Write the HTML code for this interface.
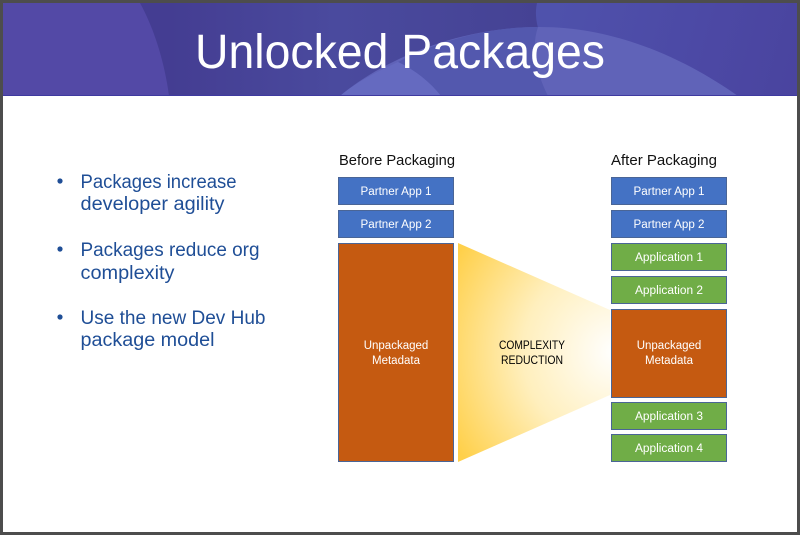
<!DOCTYPE html>
<html>
<head>
<meta charset="utf-8">
<style>
html,body{margin:0;padding:0;width:800px;height:535px;overflow:hidden;background:#fff}
svg{display:block}
text{font-family:"Liberation Sans",sans-serif}
.w{fill:#fff;font-size:11.5px;text-anchor:middle}
.h{fill:#111;font-size:15px}
.b{fill:#1f4e96;font-size:19px}
</style>
</head>
<body>
<svg width="800" height="535" viewBox="0 0 800 535" xmlns="http://www.w3.org/2000/svg">
<defs>
<linearGradient id="mid" gradientUnits="userSpaceOnUse" x1="170" y1="0" x2="540" y2="0">
<stop offset="0" stop-color="#443d92"/><stop offset="0.45" stop-color="#4a4a9e"/><stop offset="1" stop-color="#454294"/>
</linearGradient>
<linearGradient id="rt" gradientUnits="userSpaceOnUse" x1="540" y1="10" x2="797" y2="80">
<stop offset="0" stop-color="#4f52ac"/><stop offset="0.6" stop-color="#4c49a5"/><stop offset="1" stop-color="#4a449f"/>
</linearGradient>
<radialGradient id="fun" gradientUnits="userSpaceOnUse" cx="615" cy="352" r="185">
<stop offset="0" stop-color="#ffffff"/><stop offset="0.5" stop-color="#ffefbd"/><stop offset="1" stop-color="#ffd04a"/>
</radialGradient>
<clipPath id="hc"><rect x="3" y="3" width="794" height="93"/></clipPath>
</defs>
<rect width="800" height="535" fill="#4d4d4d"/>
<rect x="3" y="3" width="794" height="529" fill="#fff"/>
<g clip-path="url(#hc)">
<rect x="3" y="3" width="794" height="93" fill="url(#rt)"/>
<rect x="140" y="3" width="398" height="93" fill="url(#mid)"/>
<path d="M140 3 C155 30 165 65 169 96 H3 V3Z" fill="#5349a6"/>
<path d="M537 3 C535 12 536 20 538 28 H560 V3Z" fill="#4f52ac"/>
<path d="M340 96 C375 66 450 27 540 27 C620 27 690 62 738 96Z" fill="#6063b8"/>
<path d="M538 27 C530 50 538 76 548 96 H441 C430 82 415 70 398 62 C440 40 490 27 538 27Z" fill="#5358ae"/>
<path d="M340 96 C355 83 376 72 398 62 C415 70 430 82 441 96Z" fill="#656ac0"/>
<rect x="3" y="95" width="794" height="1" fill="#3f3aa0"/>
</g>
<text x="195" y="68" font-size="48" fill="#fff" textLength="410" lengthAdjust="spacingAndGlyphs">Unlocked Packages</text>

<circle cx="60" cy="181" r="2.6" fill="#1f4e96"/>
<circle cx="60" cy="249" r="2.6" fill="#1f4e96"/>
<circle cx="60" cy="317" r="2.6" fill="#1f4e96"/>
<text class="b" x="80.500" y="188" textLength="156" lengthAdjust="spacingAndGlyphs">Packages increase</text>
<text class="b" x="80.500" y="210" textLength="144" lengthAdjust="spacingAndGlyphs">developer agility</text>
<text class="b" x="80.500" y="256" textLength="179" lengthAdjust="spacingAndGlyphs">Packages reduce org</text>
<text class="b" x="80.500" y="279" textLength="94" lengthAdjust="spacingAndGlyphs">complexity</text>
<text class="b" x="80.500" y="324" textLength="185" lengthAdjust="spacingAndGlyphs">Use the new Dev Hub</text>
<text class="b" x="80.500" y="346" textLength="134" lengthAdjust="spacingAndGlyphs">package model</text>

<text class="h" x="339" y="165" textLength="116" lengthAdjust="spacingAndGlyphs">Before Packaging</text>
<text class="h" x="611" y="165" textLength="106" lengthAdjust="spacingAndGlyphs">After Packaging</text>

<g stroke="#4a6596" stroke-width="1">
<rect x="338.500" y="177.500" width="115" height="27" fill="#4472c4"/>
<rect x="338.500" y="210.500" width="115" height="27" fill="#4472c4"/>
<rect x="338.500" y="243.500" width="115" height="218" fill="#c55a11"/>
<rect x="611.500" y="177.500" width="115" height="27" fill="#4472c4"/>
<rect x="611.500" y="210.500" width="115" height="27" fill="#4472c4"/>
<rect x="611.500" y="243.500" width="115" height="27" fill="#70ad47"/>
<rect x="611.500" y="276.500" width="115" height="27" fill="#70ad47"/>
<rect x="611.500" y="309.500" width="115" height="88" fill="#c55a11"/>
<rect x="611.500" y="402.500" width="115" height="27" fill="#70ad47"/>
<rect x="611.500" y="434.500" width="115" height="27" fill="#70ad47"/>
</g>
<polygon points="458,243 610,310 610,395 458,462" fill="url(#fun)"/>

<text class="w" x="396" y="195" textLength="71" lengthAdjust="spacingAndGlyphs">Partner App 1</text>
<text class="w" x="396" y="228" textLength="71" lengthAdjust="spacingAndGlyphs">Partner App 2</text>
<text class="w" x="396" y="349">Unpackaged</text>
<text class="w" x="396" y="364">Metadata</text>
<text class="w" x="669" y="195" textLength="71" lengthAdjust="spacingAndGlyphs">Partner App 1</text>
<text class="w" x="669" y="228" textLength="71" lengthAdjust="spacingAndGlyphs">Partner App 2</text>
<text class="w" x="669" y="261" textLength="68" lengthAdjust="spacingAndGlyphs">Application 1</text>
<text class="w" x="669" y="294" textLength="68" lengthAdjust="spacingAndGlyphs">Application 2</text>
<text class="w" x="669" y="349">Unpackaged</text>
<text class="w" x="669" y="364">Metadata</text>
<text class="w" x="669" y="420" textLength="68" lengthAdjust="spacingAndGlyphs">Application 3</text>
<text class="w" x="669" y="452" textLength="68" lengthAdjust="spacingAndGlyphs">Application 4</text>
<text x="532" y="349" font-size="11.500" fill="#000" text-anchor="middle" textLength="66" lengthAdjust="spacingAndGlyphs">COMPLEXITY</text>
<text x="532" y="364" font-size="11.500" fill="#000" text-anchor="middle" textLength="62" lengthAdjust="spacingAndGlyphs">REDUCTION</text>
</svg>
</body>
</html>
